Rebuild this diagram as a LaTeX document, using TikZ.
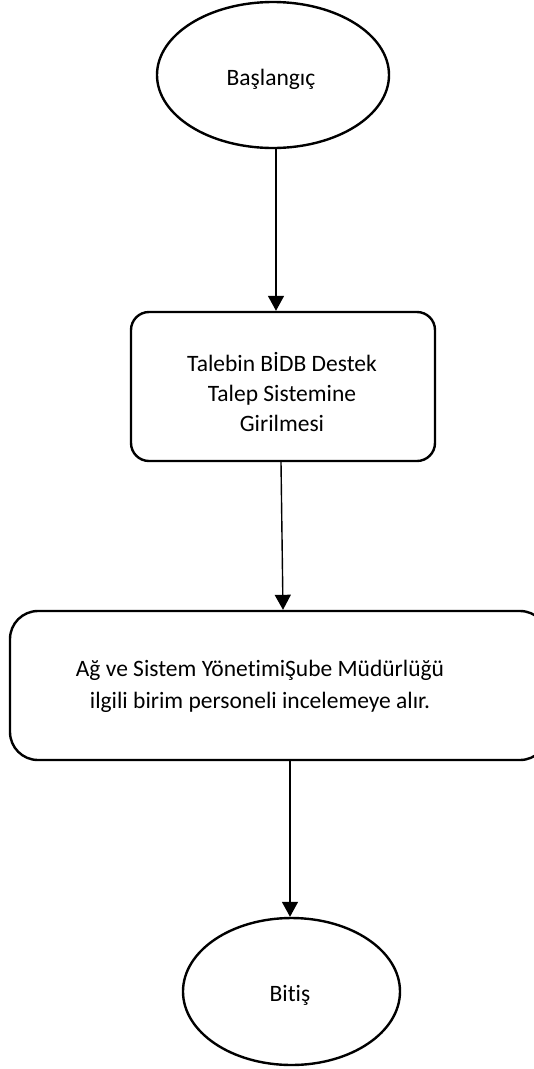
\documentclass[tikz,border=0pt]{standalone}
\usepackage{fontspec}
\setmainfont{Carlito}[Ligatures=NoCommon]
\usetikzlibrary{shapes.geometric,arrows.meta}
\begin{document}
\begin{tikzpicture}[x=1pt,y=-1pt,
  shapeline/.style={draw=black,line width=2.4pt},
  term/.style={shapeline,ellipse,inner sep=0pt},
  procbox/.style={shapeline,rectangle,inner sep=0pt},
  lbl/.style={font=\fontsize{23.5}{30}\selectfont,align=center,inner sep=0pt},
  arr/.style={line width=1.4pt,-{Triangle[width=16pt,length=15pt]}}]
\useasboundingbox (0,0) rectangle (534,1069);
\node[term,minimum width=232pt,minimum height=146pt] (e1) at (273,75) {};
\node[lbl] (t1) at (271,79) {Başlangıç};
\node[procbox,rounded corners=18pt,minimum width=304pt,minimum height=149pt] (b1) at (283,386.5) {};
\node[lbl] (t2) at (282,392) {Talebin BİDB Destek\\Talep Sistemine\\Girilmesi};
\node[procbox,rounded corners=28pt,minimum width=538pt,minimum height=149pt] (b2) at (279,685.5) {};
\node[lbl,font=\fontsize{23.5}{32}\selectfont] (t3) at (260,686) {Ağ ve Sistem YönetimiŞube Müdürlüğü\\ilgili birim personeli incelemeye alır.};
\node[term,minimum width=217pt,minimum height=147pt] (e2) at (291.5,991.5) {};
\node[lbl] (t4) at (290,995) {Bitiş};
\draw[arr] ([xshift=3pt]e1.south) -- ([xshift=-7pt]b1.north);
\draw[arr] ([xshift=-2pt]b1.south) -- ([xshift=4pt]b2.north);
\draw[arr] ([xshift=11pt]b2.south) -- ([xshift=-1.5pt]e2.north);
\end{tikzpicture}
\end{document}
